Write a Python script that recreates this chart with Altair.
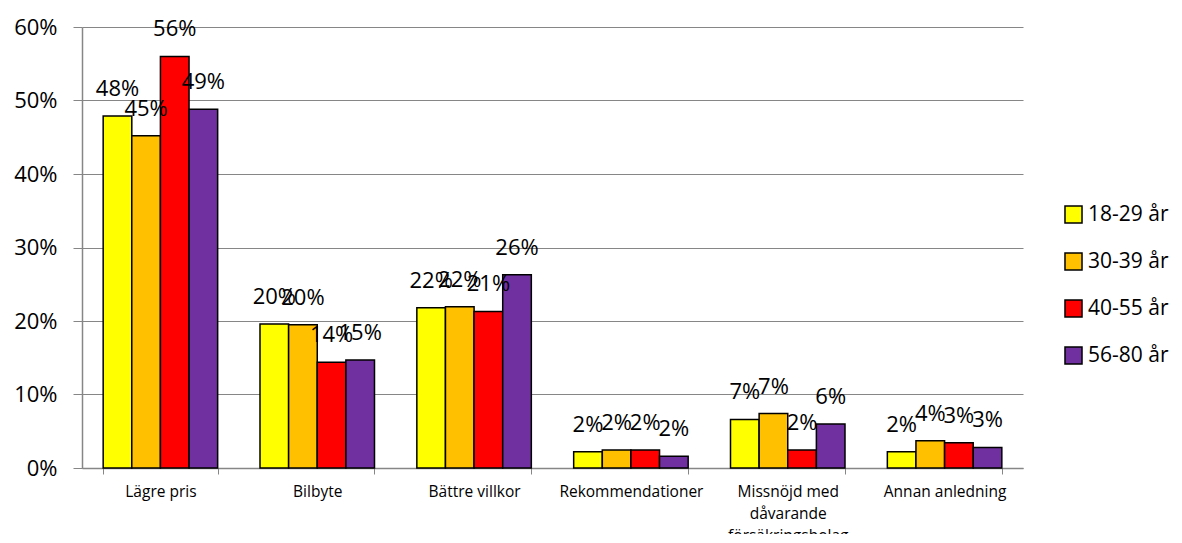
import altair as alt
import pandas as pd

categories = ["Lägre pris", "Bilbyte", "Bättre villkor", "Rekommendationer",
              "Missnöjd med dåvarande försäkringsbolag", "Annan anledning"]
groups = ["18-29 år", "30-39 år", "40-55 år", "56-80 år"]
colors = ["#FFFF00", "#FFC000", "#FF0000", "#7030A0"]

v_18_29 = [47.9, 19.6, 21.8, 2.2, 6.6, 2.2]
v_30_39 = [45.2, 19.5, 21.95, 2.45, 7.4, 3.7]
v_40_55 = [56.0, 14.4, 21.3, 2.45, 2.45, 3.45]
v_56_80 = [48.8, 14.7, 26.3, 1.6, 6.0, 2.8]

series = [v_18_29, v_30_39, v_40_55, v_56_80]
rows = []
for g, vals in zip(groups, series):
    for c, v in zip(categories, vals):
        rows.append({"cat": c, "grp": g, "val": v / 100.0,
                     "lbl": f"{int(v + 0.5):d}%"})
df = pd.DataFrame(rows)

FONT = "Open Sans"

x = alt.X("cat:N", sort=categories, title=None,
          scale=alt.Scale(paddingInner=0.27, paddingOuter=0.135),
          axis=alt.Axis(labelAngle=0, labelFontSize=15.5, labelFont=FONT,
                        labelColor="black", labelPadding=10,
                        labelExpr="datum.label == 'Missnöjd med dåvarande försäkringsbolag' ? ['Missnöjd med','dåvarande','försäkringsbolag'] : datum.label",
                        labelLineHeight=22,
                        tickBand="extent", tickSize=6, tickColor="#868686",
                        domainColor="#868686", domainWidth=1.5, grid=False))
xo = alt.XOffset("grp:N", sort=groups, scale=alt.Scale(paddingInner=0, paddingOuter=0))
y = alt.Y("val:Q", title=None,
          scale=alt.Scale(domain=[0, 0.6], nice=False),
          axis=alt.Axis(format=".0%", values=[0, 0.1, 0.2, 0.3, 0.4, 0.5, 0.6],
                        labelFontSize=22, labelFont=FONT, labelColor="black",
                        labelPadding=16, tickSize=9, tickColor="#868686",
                        domainColor="#868686", domainWidth=1.5,
                        gridColor="#868686", gridWidth=1.2))

bars = alt.Chart(df).mark_bar(stroke="black", strokeWidth=1.5).encode(
    x=x, xOffset=xo, y=y,
    color=alt.Color("grp:N", sort=groups,
                    scale=alt.Scale(domain=groups, range=colors),
                    legend=alt.Legend(title=None, orient="none", legendX=981, legendY=177,
                                      symbolType="square", symbolSize=290,
                                      symbolStrokeColor="black", symbolStrokeWidth=1.5,
                                      labelFontSize=21, labelFont=FONT, labelColor="black",
                                      rowPadding=22, labelOffset=4)),
)

labels = alt.Chart(df).mark_text(baseline="middle", dy=-27, fontSize=22,
                                 font=FONT, color="black").encode(
    x=alt.X("cat:N", sort=categories), xOffset=xo, y="val:Q", text="lbl:N")

chart = alt.layer(bars, labels).properties(
    width=941, height=441,
    autosize=alt.AutoSizeParams(type="none"),
    padding={"left": 74, "top": 19, "right": 150, "bottom": 66},
).configure_view(stroke=None).configure_legend(symbolStrokeColor="black")

chart.save("out.html", embed_options={"renderer": "svg", "actions": False})
